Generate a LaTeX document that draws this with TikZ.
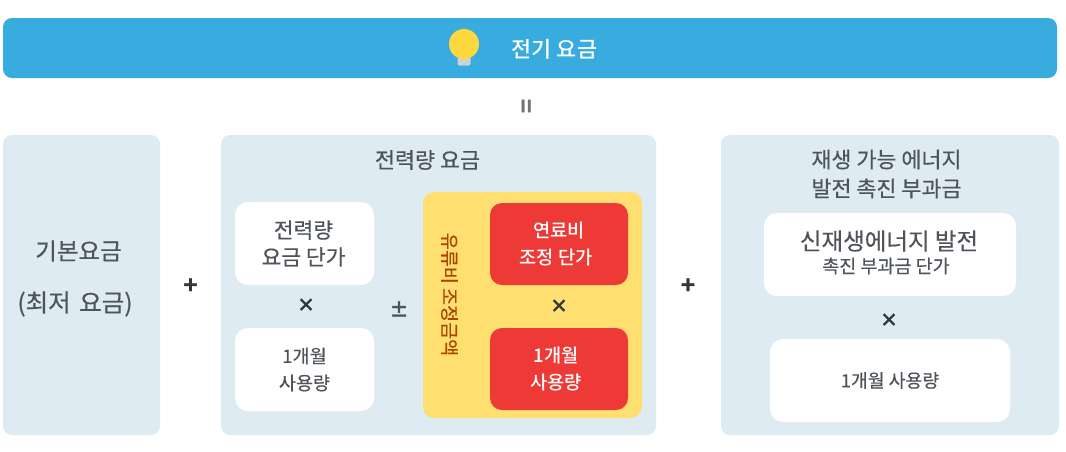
\documentclass[tikz,border=0pt]{standalone}
\usepackage{fontspec}
\setmainfont[FakeBold=0.35]{Noto Sans CJK KR}
\newfontfamily\opfont{Noto Sans CJK KR Bold}[FakeBold=1.2]
\newfontfamily\semifont{Noto Sans CJK KR Medium}
\definecolor{barblue}{HTML}{38ABDF}
\definecolor{panelblue}{HTML}{DEEBF3}
\definecolor{paleyellow}{HTML}{FFDF70}
\definecolor{feered}{HTML}{EE3A36}
\definecolor{inkgrey}{HTML}{4F545A}
\definecolor{rustink}{HTML}{A84600}
\definecolor{bulbyellow}{HTML}{FFD83F}
\definecolor{opink}{HTML}{33373B}
\newcommand{\fs}[2]{\fontsize{#1}{#2}\selectfont}
\tikzset{
  panel/.style={fill=panelblue,rounded corners=9pt,inner sep=0pt,text=inkgrey,align=center},
  whitebox/.style={fill=white,rounded corners=13pt,inner sep=0pt,text=inkgrey,align=center},
  redbox/.style={fill=feered,rounded corners=12pt,inner sep=0pt,text=white,align=center},
  sizebox/.style n args={2}{minimum width=#1 pt,minimum height=#2 pt},
  label/.style={inner sep=0pt,text=inkgrey,align=center},
  plusop/.style={inner sep=0pt,text=opink,font=\opfont\fs{24}{24}},
  timesop/.style={inner sep=0pt,text=opink,font=\opfont\fs{18}{18}}
}
\begin{document}
\begin{tikzpicture}[x=1pt,y=-1pt]
\useasboundingbox (0,0) rectangle (1066,451);
\fill[white] (0,0) rectangle (1066,451);
% top bar
\node[fill=barblue,rounded corners=9pt,sizebox={1054}{60},inner sep=0pt] (bar) at (530,48) {};
\node[fill=black!18,minimum width=13pt,minimum height=11pt,inner sep=0pt,rounded corners=2pt] (bulbbase) at (464,60) {};
\node[circle,fill=bulbyellow,minimum size=30pt,inner sep=0pt] (bulb) at (464,44) {};
\node[inner sep=0pt,text=white,font=\semifont\fs{21.8}{24}] (title) at (554.5,49) {전기 요금};
\node[inner sep=0pt,text=black!55,rotate=90,font=\opfont\fs{24}{24}] (equals) at (528.5,106) {=};
% panels
\node[panel,sizebox={157}{300}] (base) at (81.5,285) {};
\node[panel,sizebox={435}{300}] (energy) at (438.5,285) {};
\node[panel,sizebox={338}{300}] (renew) at (890,285) {};
% left
\node[label,font=\fs{23.5}{26}] (basea) at (78.5,251) {기본요금};
\node[label,font=\fs{24.5}{26}] (baseb) at (75,304) {(최저\hspace{3pt} 요금)};
\node[plusop] (plusa) at (190.5,286) {+};
% middle
\node[label,font=\fs{21.8}{24}] (energyt) at (427.5,160) {전력량 요금};
\node[whitebox,sizebox={139}{83},font=\fs{21.5}{27}] (unit) at (304.5,243.5) {전력량\rule{2pt}{0pt}\\요금 단가\rule{2pt}{0pt}};
\node[timesop] (timesa) at (306,305) {×};
\node[whitebox,sizebox={139}{83},font=\fs{18.5}{27}] (usea) at (304.5,369.5) {1개월\\사용량};
\node[inner sep=0pt,text=inkgrey,font=\opfont\fs{19}{19}] (pm) at (399,309) {±};
\node[fill=paleyellow,rounded corners=11pt,sizebox={219}{226},inner sep=0pt] (fuel) at (532.5,305) {};
\node[inner sep=0pt,text=rustink,rotate=-90,font=\fs{18.5}{20}] (fuelt) at (449.5,294.5) {유류비 조정금액};
\node[redbox,sizebox={138}{82},font=\semifont\fs{18.7}{27}] (fuelu) at (559,244) {연료비\\조정 단가\rule{6pt}{0pt}};
\node[timesop] (timesb) at (559,306) {×};
\node[redbox,sizebox={138}{82},font=\semifont\fs{18.7}{27}] (useb) at (559,369) {1개월\rule{6pt}{0pt}\\사용량\rule{6pt}{0pt}};
\node[plusop] (plusb) at (688,286) {+};
% right
\node[label,font=\fs{21.8}{29}] (renewt) at (886.5,174) {재생 가능 에너지\\발전 촉진 부과금};
\node[whitebox,sizebox={252}{83}] (renewu) at (890,254.5) {};
\node[label,font=\fs{23.5}{26}] (renewa) at (889,241) {신재생에너지 발전};
\node[label,font=\fs{18.5}{20}] (renewb) at (886,266) {촉진 부과금 단가};
\node[timesop] (timesc) at (889,320) {×};
\node[whitebox,sizebox={240}{83},font=\fs{18.3}{20}] (usec) at (890,380.5) {1개월 사용량};
\end{tikzpicture}
\end{document}
